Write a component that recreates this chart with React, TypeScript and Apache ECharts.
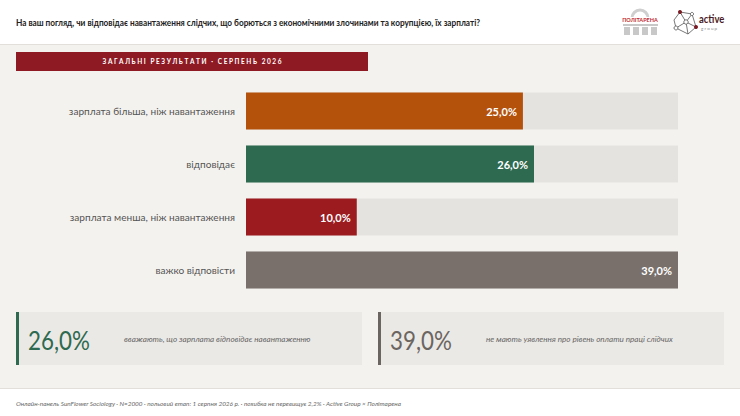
import React, { useEffect, useRef } from "react";
import * as echarts from "echarts";

const categories = [
  "зарплата більша, ніж навантаження",
  "відповідає",
  "зарплата менша, ніж навантаження",
  "важко відповісти",
];
const values = [25.0, 26.0, 10.0, 39.0];
const barColors = ["#b4520c", "#2d6a4f", "#9b1b1f", "#79706b"];
const title =
  "На ваш погляд, чи відповідає навантаження слідчих, що борються з економічними злочинами та корупцією, їх зарплаті?";
const bandText = "З А Г А Л Ь Н І   Р Е З У Л Ь Т А Т И   ·   С Е Р П Е Н Ь   2 0 2 6";
const cardValues = ["26,0%", "39,0%"];
const cardTexts = [
  "вважають, що зарплата відповідає навантаженню",
  "не мають уявлення про рівень оплати праці слідчих",
];
const cardColors = ["#2d6a4f", "#6b6561"];
const footer =
  "Онлайн-панель SunFlower Sociology · N=2000 · польовий етап: 1 серпня 2026 р. · похибка не перевищує 2,2% · Active Group × Політарена";

const FONT = "Lato, 'Noto Sans', sans-serif";

export default function App() {
  const ref = useRef<HTMLDivElement>(null);
  useEffect(() => {
    document.body.style.margin = "0";
    const chart = echarts.init(ref.current!, null, { renderer: "svg" });
    const graphics: any[] = [
      { type: "rect", shape: { x: 0, y: 0, width: 740, height: 44 }, style: { fill: "#ffffff" }, z: 0 },
      { type: "line", shape: { x1: 0, y1: 44.5, x2: 740, y2: 44.5 }, style: { stroke: "#e2dfda", lineWidth: 1 } },
      {
        type: "text", x: 16, y: 22, scaleX: 0.86,
        style: { text: title, fill: "#222222", fontSize: 9.6, fontWeight: "bold", fontFamily: FONT, verticalAlign: "middle" },
      },
      { type: "rect", shape: { x: 16, y: 52, width: 352, height: 19 }, style: { fill: "#8e1b24" } },
      {
        type: "text", x: 192, y: 61.5,
        style: { text: bandText, fill: "#ffffff", fontSize: 6.5, fontWeight: "bold", fontFamily: FONT, align: "center", verticalAlign: "middle" },
      },
      // politarena logo
      { type: "arc", shape: { cx: 640, cy: 18, r: 8, startAngle: Math.PI, endAngle: 2 * Math.PI }, style: { stroke: "#cfcfcf", lineWidth: 3, fill: "none" } },
      { type: "rect", shape: { x: 622, y: 17, width: 37, height: 6 }, style: { fill: "#ffffff" } },
      { type: "text", x: 640, y: 20, style: { text: "ПОЛІТАРЕНА", fill: "#c0282d", fontSize: 5.5, fontWeight: "bold", fontFamily: FONT, align: "center", verticalAlign: "middle" } },
      { type: "rect", shape: { x: 623, y: 24, width: 35, height: 2 }, style: { fill: "#c8c8c8" } },
      { type: "rect", shape: { x: 624, y: 27, width: 6, height: 8 }, style: { fill: "#c8c8c8" } },
      { type: "rect", shape: { x: 633, y: 27, width: 6, height: 8 }, style: { fill: "#c8c8c8" } },
      { type: "rect", shape: { x: 642, y: 27, width: 6, height: 8 }, style: { fill: "#c8c8c8" } },
      { type: "rect", shape: { x: 651, y: 27, width: 6, height: 8 }, style: { fill: "#c8c8c8" } },
      // active group logo
      { type: "polyline", shape: { points: [[680, 12], [692, 14], [696, 27], [688, 34], [676, 28], [674, 20], [680, 12]] }, style: { stroke: "#555", lineWidth: 0.8, fill: "none" } },
      { type: "polyline", shape: { points: [[680, 12], [686, 22], [696, 27]] }, style: { stroke: "#555", lineWidth: 0.8, fill: "none" } },
      { type: "polyline", shape: { points: [[686, 22], [676, 28]] }, style: { stroke: "#555", lineWidth: 0.8, fill: "none" } },
      { type: "polyline", shape: { points: [[692, 14], [686, 22], [688, 34]] }, style: { stroke: "#555", lineWidth: 0.8, fill: "none" } },
      { type: "circle", shape: { cx: 680, cy: 12, r: 2 }, style: { fill: "#7a1a22" } },
      { type: "circle", shape: { cx: 696, cy: 27, r: 2 }, style: { fill: "#7a1a22" } },
      { type: "circle", shape: { cx: 686, cy: 22, r: 2.2 }, style: { fill: "#fff", stroke: "#555", lineWidth: 0.8 } },
      { type: "circle", shape: { cx: 676, cy: 28, r: 2 }, style: { fill: "#fff", stroke: "#555", lineWidth: 0.8 } },
      { type: "circle", shape: { cx: 692, cy: 14, r: 1.6 }, style: { fill: "#fff", stroke: "#555", lineWidth: 0.8 } },
      { type: "text", x: 699, y: 19, scaleX: 0.9, style: { text: "active", fill: "#4a1a1e", fontSize: 10.5, fontWeight: "bold", fontFamily: FONT, verticalAlign: "middle" } },
      { type: "text", x: 701, y: 28, style: { text: "g r o u p", fill: "#888", fontSize: 4.5, fontFamily: FONT, verticalAlign: "middle" } },
      // footer
      { type: "rect", shape: { x: 0, y: 388, width: 740, height: 28 }, style: { fill: "#ffffff" } },
      { type: "line", shape: { x1: 0, y1: 388.5, x2: 740, y2: 388.5 }, style: { stroke: "#e2dfda", lineWidth: 1 } },
      { type: "text", x: 16, y: 403, style: { text: footer, fill: "#666", fontSize: 6.4, fontStyle: "italic", fontFamily: FONT, verticalAlign: "middle" } },
    ];
    [0, 1].forEach((i) => {
      const x0 = i === 0 ? 16 : 378;
      graphics.push(
        { type: "rect", shape: { x: x0, y: 312, width: 346, height: 53 }, style: { fill: "#ebe9e5" } },
        { type: "rect", shape: { x: x0, y: 312, width: 3, height: 53 }, style: { fill: cardColors[i] } },
        { type: "text", x: x0 + 12, y: 340, scaleX: 0.86, style: { text: cardValues[i], fill: cardColors[i], fontSize: 26, fontFamily: FONT, verticalAlign: "middle" } },
        { type: "text", x: x0 + 108, y: 339, style: { text: cardTexts[i], fill: "#666", fontSize: 8.1, fontStyle: "italic", fontFamily: FONT, verticalAlign: "middle" } }
      );
    });
    chart.setOption({
      animation: false,
      backgroundColor: "#f4f2ee",
      textStyle: { fontFamily: FONT },
      grid: { left: 246, right: 62, top: 84.5, height: 212, containLabel: false },
      xAxis: { type: "value", min: 0, max: 39, show: false },
      yAxis: {
        type: "category",
        data: categories,
        inverse: true,
        axisLine: { show: false },
        axisTick: { show: false },
        axisLabel: { color: "#555", fontSize: 10.1, margin: 11, fontFamily: FONT },
      },
      series: [
        {
          type: "bar",
          data: values.map((v, i) => ({ value: v, itemStyle: { color: barColors[i] } })),
          barWidth: 37,
          showBackground: true,
          backgroundStyle: { color: "#e5e3e0" },
          label: {
            show: true,
            position: "insideRight",
            distance: 6,
            color: "#ffffff",
            fontSize: 11,
            fontWeight: "bold",
            fontFamily: FONT,
            formatter: (p: any) => p.value.toFixed(1).replace(".", ",") + "%",
          },
        },
      ],
      graphic: graphics,
    });
    return () => chart.dispose();
  }, []);
  return <div ref={ref} style={{ position: "fixed", left: 0, top: 0, width: 740, height: 416 }} />;
}
